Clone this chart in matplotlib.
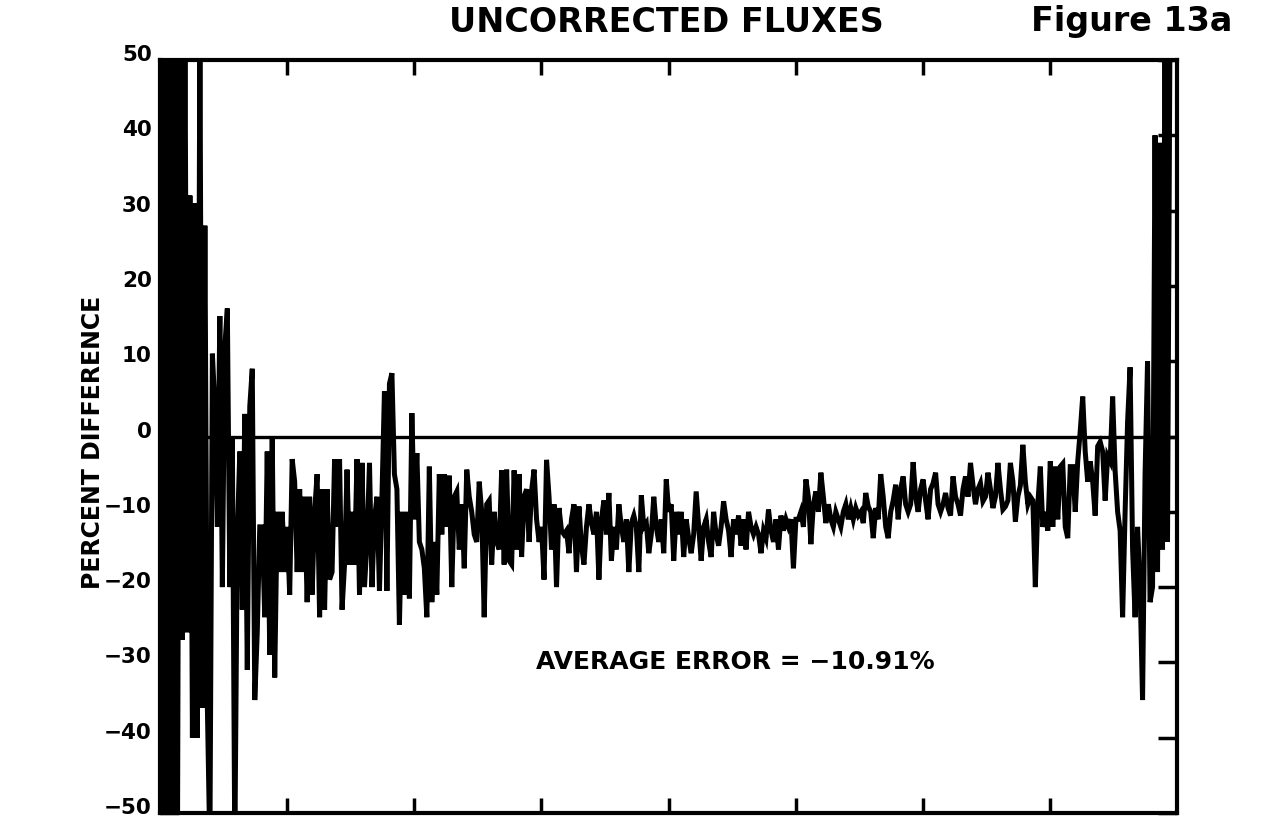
import numpy as np
import matplotlib
matplotlib.use("Agg")
import matplotlib.pyplot as plt
import matplotlib.transforms as mtransforms

# ---- data (percent difference per channel) ----
seg_left = [55, -55, 55, -55, 55, -55, 55, -55, 55, -27, 55, -26, 32, -40, 31, -40, 55, -36, 28, -36,
            -55, 11, 4, -12, 16, -20, 12, 17, -20, 0, -55, -13, -2, -23, 3, -31,
            4, 9, -35, -26, -12, -12, -24, -2, -29, 0, -32, -10, -18, -10, -18, -12,
            -21, -3, -6, -18, -7, -18, -8, -22, -8, -21, -10, -5, -24, -7, -23, -7,
            -19, -18, -3, -12]
seg_b = [-3, -23, -17, -4.4, -17, -10, -17, -3, -21, -3.5, -20, -14, -3.5, -20, -11,
         -8, -20.5, -8, 6, -20.5, 7, 8.4, -5, -7, -25, -10, -21, -10, -21.5, 3.1,
         -11, -2.2, -14, -15, -17.5, -24, -4, -22, -14, -21, -5, -13, -5, -12, -5.2,
         -20, -8, -7.3, -15, -9, -17.5, -4.4, -8, -10, -13, -14, -6, -10, -24, -9,
         -8.5, -17, -10, -14, -15, -4.5, -17]
seg_c = [-4.4, -16.5, -17, -4.5, -15, -5, -16, -8, -7, -14, -7.2, -4.4, -11, -14, -12,
         -19, -3.1, -8, -15, -9, -20, -9.5, -12.5, -13, -12.5, -15.5, -11, -9, -18,
         -9.3, -14.5, -17, -12, -9, -11.5, -13, -10, -19, -11, -8.5, -13, -7.5, -16.5,
         -12, -15, -9, -12, -14, -11, -18, -11.5, -10.5, -12, -18, -7.8, -12, -11.5,
         -15.5, -13, -8, -12, -14, -11, -15.5, -5.7, -10, -9, -16.5, -10, -13]
seg_d = [-10, -16, -11, -13.5, -15.5, -13, -7.3, -12, -16.5, -12, -11, -14, -16, -10,
         -13, -14.5, -12, -8.6, -11, -12.5, -16, -11, -13, -10.5, -14.5, -11, -15, -10,
         -12, -13, -12, -13, -15.5, -12.5, -13.5, -9.7, -12.5, -14, -11, -15, -10.5,
         -12.5, -11, -12, -11, -17.5, -11, -11, -10, -12, -5.7, -8, -14.3, -9, -7.3,
         -10, -4.8, -8, -11.5, -9, -11, -12, -10, -11, -12, -10, -9, -11, -9.5, -11]
seg_e = [-9.5, -10.5, -10, -11.5, -7.5, -9.3, -10, -13.5, -9.5, -11, -5, -8, -12, -13.5,
         -10, -8.5, -6.4, -11, -7, -5.3, -9, -10, -9, -3.4, -8, -10, -7, -5.7, -8.5,
         -11, -7, -6.2, -4.8, -9, -10, -9, -7.5, -9.5, -10.5, -5.3, -8, -9, -10.5, -7,
         -5.3, -8, -3.5, -6.5, -9, -7, -6.2, -8.6, -8, -4.8, -7, -9.5, -8, -3.5, -7,
         -9.7, -9.3, -8.5, -3.5, -6, -11.3, -8, -6.5, -1.1, -6, -9]
seg_right = [-8, -8.5, -20, -9, -4, -12, -10, -12.5, -3.3, -12, -4, -11, -4, -3.6, -12,
             -13.5, -4, -4, -10, -3.3, 0.7, 5.3, -2, -6, -3.3, -6, -10.5, -1.3, -0.7, -2,
             -8.5, -2.6, -3.3, 5.3, -4.6, -10, -12.5, -24, -10, 2, 9.2, -15, -24, -12,
             -20, -35, -5, 10, -22, -20, 40, -18, 39, -15, 55, -14, 55]

values = np.array(seg_left + seg_b + seg_c + seg_d + seg_e + seg_right, dtype=float)
channels = np.arange(len(values))

y_ticks = [50, 40, 30, 20, 10, 0, -10, -20, -30, -40, -50]
title = "UNCORRECTED FLUXES"
fig_label = "Figure 13a"
y_label = "PERCENT DIFFERENCE"
note = "AVERAGE ERROR = \u221210.91%"
note_level = -30

# ---- figure ----
plt.rcParams['font.family'] = ['DejaVu Sans']
fig = plt.figure(figsize=(12.62, 8.18), dpi=100)
ax = fig.add_axes([160/1262, 1 - 813/818, (1177-160)/1262, (813-60)/818])

ax.plot(channels, values, color='black', lw=3.6, solid_joinstyle='miter')
ax.axhline(0, color='black', lw=2.4)

xmax = (len(values) - 1) * 1017 / 1010
ax.set_xlim(0, xmax)
ax.set_ylim(-50, 50)

ax.set_yticks(y_ticks)
ax.set_yticklabels([("\u2212%d" % -v) if v < 0 else "%d" % v for v in y_ticks],
                   fontsize=15.5, fontweight='bold')
ax.set_xticks(np.linspace(0, xmax, 9)[1:-1])
ax.set_xticklabels([])
ax.tick_params(axis='both', direction='in', width=2.5, color='black',
               top=True, right=True, left=True, bottom=True, pad=6)
ax.tick_params(axis='y', length=14)
ax.tick_params(axis='x', length=11)
for s in ax.spines.values():
    s.set_linewidth(3)

# labels sit slightly above their ticks, as in the reference
offset = mtransforms.ScaledTranslation(0, 7/100, fig.dpi_scale_trans)
for lab in ax.get_yticklabels():
    lab.set_transform(lab.get_transform() + offset)

fig.text(93/1262, 1 - 442/818, y_label, fontsize=17, fontweight='bold',
         rotation=90, ha='center', va='center')

fig.text(666/1262, 1 - 22/818, title, fontsize=24, fontweight='bold',
         ha='center', va='center')
fig.text(1132/1262, 1 - 22/818, fig_label, fontsize=24, fontweight='bold',
         ha='center', va='center')
ax.text(0.566, note_level, note, transform=ax.get_yaxis_transform(), fontsize=18,
        fontweight='bold', ha='center', va='center')

fig.savefig("out.png", dpi=100)
